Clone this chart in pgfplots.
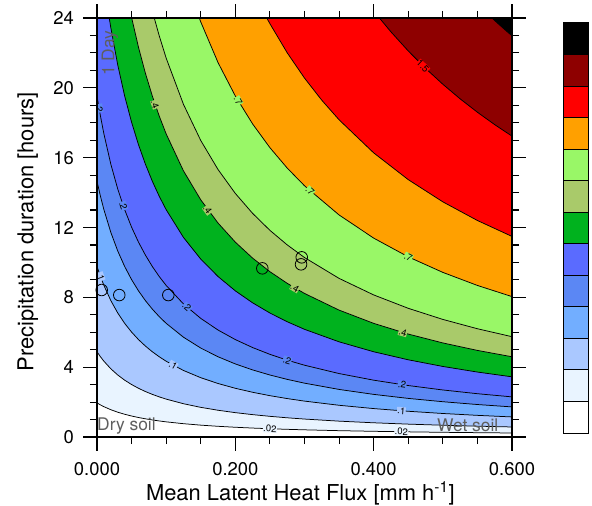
\documentclass[border=0pt]{standalone}
\usepackage{fontspec}
\setmainfont{TeX Gyre Heros}
\usepackage{pgfplots}
\pgfplotsset{compat=1.18}
\definecolor{cA}{HTML}{FFFFFF}
\definecolor{cB}{HTML}{E9F4FF}
\definecolor{cC}{HTML}{AAC8FF}
\definecolor{cD}{HTML}{72AEFF}
\definecolor{cE}{HTML}{5B87F4}
\definecolor{cF}{HTML}{5A6BFF}
\definecolor{cG}{HTML}{00B21E}
\definecolor{cH}{HTML}{A9CA6A}
\definecolor{cI}{HTML}{99F767}
\definecolor{cJ}{HTML}{FFA000}
\definecolor{cK}{HTML}{FF0000}
\definecolor{cL}{HTML}{8E0000}
\definecolor{cM}{HTML}{000000}
\definecolor{annot}{HTML}{5E5E5E}
\begin{document}
\begin{tikzpicture}
\useasboundingbox (-97bp,-69bp) rectangle (495bp,437bp);
\begin{axis}[
  at={(0,0)}, anchor=south west,
  scale only axis, width=415bp, height=419bp,
  xmin=0, xmax=0.6, ymin=0, ymax=24,
  axis on top,
  axis line style={line width=1.4bp},
  tick style={line width=1.1bp, black},
  tick align=outside,
  major tick length=13.5bp, minor tick length=7bp,
  xtick={0,0.2,0.4,0.6}, minor x tick num=3,
  ytick={0,4,8,12,16,20,24}, minor y tick num=3,
  /pgf/number format/assume math mode=true,
  xticklabel style={yshift=-8bp, /pgf/number format/.cd, fixed, fixed zerofill, precision=3},
  yticklabel style={xshift=-6bp},
  tick label style={font=\fontsize{18.5}{20}\selectfont},
  label style={font=\fontsize{22}{24}\selectfont},
  xlabel={Mean Latent Heat Flux [mm h\textsuperscript{-1}]},
  ylabel={Precipitation duration [hours]},
  xlabel style={at={(axis description cs:0.49,-0.134)}, anchor=center},
  ylabel style={at={(axis description cs:-0.167,0.49)}, anchor=center},
  every axis plot/.append style={line width=0.75bp},
]
% z > 0.02
\addplot[fill=cB, draw=black] coordinates {(0,1.953) (0.005,1.838) (0.01,1.736) (0.02,1.563) (0.03,1.420) (0.04,1.302) (0.05,1.202) (0.06,1.116) (0.07,1.042) (0.08,0.977) (0.09,0.919) (0.10,0.868) (0.125,0.762) (0.15,0.679) (0.175,0.613) (0.20,0.558) (0.225,0.512) (0.25,0.473) (0.275,0.440) (0.30,0.411) (0.35,0.363) (0.40,0.326) (0.45,0.295) (0.50,0.269) (0.55,0.248) (0.60,0.230) (0.6,24) (0,24)};
% z > 0.05
\addplot[fill=cC, draw=black] coordinates {(0,4.883) (0.005,4.596) (0.01,4.340) (0.02,3.906) (0.03,3.551) (0.04,3.255) (0.05,3.005) (0.06,2.790) (0.07,2.604) (0.08,2.441) (0.09,2.298) (0.10,2.170) (0.125,1.906) (0.15,1.698) (0.175,1.532) (0.20,1.395) (0.225,1.281) (0.25,1.184) (0.275,1.100) (0.30,1.028) (0.35,0.908) (0.40,0.814) (0.45,0.737) (0.50,0.674) (0.55,0.620) (0.60,0.574) (0.6,24) (0,24)};
% z > 0.1
\addplot[fill=cD, draw=black] coordinates {(0,9.766) (0.005,9.191) (0.01,8.681) (0.02,7.813) (0.03,7.102) (0.04,6.510) (0.05,6.010) (0.06,5.580) (0.07,5.208) (0.08,4.883) (0.09,4.596) (0.10,4.340) (0.125,3.811) (0.15,3.397) (0.175,3.064) (0.20,2.790) (0.225,2.562) (0.25,2.367) (0.275,2.201) (0.30,2.056) (0.35,1.817) (0.40,1.628) (0.45,1.474) (0.50,1.347) (0.55,1.240) (0.60,1.149) (0.6,24) (0,24)};
% z > 0.15
\addplot[fill=cE, draw=black] coordinates {(0,14.648) (0.005,13.787) (0.01,13.021) (0.02,11.719) (0.03,10.653) (0.04,9.766) (0.05,9.014) (0.06,8.371) (0.07,7.812) (0.08,7.324) (0.09,6.893) (0.10,6.510) (0.125,5.717) (0.15,5.095) (0.175,4.596) (0.20,4.185) (0.225,3.842) (0.25,3.551) (0.275,3.301) (0.30,3.084) (0.35,2.725) (0.40,2.441) (0.45,2.211) (0.50,2.021) (0.55,1.860) (0.60,1.723) (0.6,24) (0,24)};
% z > 0.2
\addplot[fill=cF, draw=black] coordinates {(0,19.531) (0.005,18.382) (0.01,17.361) (0.02,15.625) (0.03,14.205) (0.04,13.021) (0.05,12.019) (0.06,11.161) (0.07,10.417) (0.08,9.766) (0.09,9.191) (0.10,8.681) (0.125,7.622) (0.15,6.793) (0.175,6.127) (0.20,5.580) (0.225,5.123) (0.25,4.735) (0.275,4.401) (0.30,4.112) (0.35,3.634) (0.40,3.255) (0.45,2.948) (0.50,2.694) (0.55,2.480) (0.60,2.298) (0.6,24) (0,24)};
% z > 0.3
\addplot[fill=cG, draw=black] coordinates {(0.0177,24) (0.02,23.438) (0.03,21.307) (0.04,19.531) (0.05,18.029) (0.06,16.741) (0.07,15.625) (0.08,14.648) (0.09,13.787) (0.10,13.021) (0.125,11.433) (0.15,10.190) (0.175,9.191) (0.20,8.371) (0.225,7.685) (0.25,7.102) (0.275,6.602) (0.30,6.168) (0.35,5.451) (0.40,4.883) (0.45,4.422) (0.50,4.041) (0.55,3.720) (0.60,3.447) (0.6,24)};
% z > 0.4
\addplot[fill=cH, draw=black] coordinates {(0.0502,24) (0.06,22.321) (0.07,20.833) (0.08,19.531) (0.09,18.382) (0.10,17.361) (0.125,15.244) (0.15,13.587) (0.175,12.255) (0.20,11.161) (0.225,10.246) (0.25,9.470) (0.275,8.803) (0.30,8.224) (0.35,7.268) (0.40,6.510) (0.45,5.896) (0.50,5.388) (0.55,4.960) (0.60,4.596) (0.6,24)};
% z > 0.5
\addplot[fill=cI, draw=black] coordinates {(0.0828,24) (0.09,22.978) (0.10,21.702) (0.125,19.055) (0.15,16.984) (0.175,15.319) (0.20,13.951) (0.225,12.808) (0.25,11.837) (0.275,11.004) (0.30,10.280) (0.35,9.085) (0.40,8.138) (0.45,7.371) (0.50,6.735) (0.55,6.201) (0.60,5.745) (0.6,24)};
% z > 0.7
\addplot[fill=cJ, draw=black] coordinates {(0.1479,24) (0.15,23.777) (0.175,21.446) (0.20,19.531) (0.225,17.931) (0.25,16.572) (0.275,15.405) (0.30,14.391) (0.35,12.718) (0.40,11.393) (0.45,10.319) (0.50,9.429) (0.55,8.681) (0.60,8.042) (0.6,24)};
% z > 1.0
\addplot[fill=cK, draw=black] coordinates {(0.2455,24) (0.25,23.674) (0.275,22.007) (0.30,20.559) (0.325,19.290) (0.35,18.169) (0.40,16.276) (0.45,14.741) (0.50,13.470) (0.55,12.401) (0.60,11.489) (0.6,24)};
% z > 1.5
\addplot[fill=cL, draw=black] coordinates {(0.4083,24) (0.425,23.205) (0.45,22.112) (0.475,21.115) (0.50,20.205) (0.525,19.370) (0.55,18.601) (0.575,17.891) (0.60,17.234) (0.6,24)};
% z > 2.0
\addplot[fill=cM, draw=black] coordinates {(0.5710,24) (0.58,23.674) (0.59,23.321) (0.60,22.978) (0.6,24)};
% contour labels
\begin{scope}[every node/.style={font=\fontsize{9.5}{10}\selectfont, inner sep=0.4bp}]
\node[fill=cB, rotate=-2] at (axis cs:0.25,0.473) {.02};
\node[fill=cB, rotate=-1] at (axis cs:0.44,0.30) {.02};
\node[fill=cC, rotate=-70] at (axis cs:0.005,9.19) {.1};
\node[fill=cC, rotate=-29] at (axis cs:0.11,4.12) {.1};
\node[fill=cC, rotate=-4] at (axis cs:0.44,1.50) {.1};
\node[fill=cE, rotate=-80] at (axis cs:0.003,18.83) {.2};
\node[fill=cE, rotate=-70] at (axis cs:0.038,13.24) {.2};
\node[fill=cE, rotate=-42] at (axis cs:0.13,7.44) {.2};
\node[fill=cE, rotate=-17] at (axis cs:0.275,4.40) {.2};
\node[fill=cE, rotate=-8] at (axis cs:0.441,3.0) {.2};
\node[fill=cH, rotate=-71] at (axis cs:0.084,19.05) {.4};
\node[fill=cH, rotate=-54] at (axis cs:0.16,13.0) {.4};
\node[fill=cH, rotate=-30] at (axis cs:0.286,8.54) {.4};
\node[fill=cH, rotate=-16] at (axis cs:0.442,5.99) {.4};
\node[fill=cI, rotate=-60] at (axis cs:0.204,19.26) {.7};
\node[fill=cI, rotate=-42] at (axis cs:0.308,14.1) {.7};
\node[fill=cI, rotate=-26] at (axis cs:0.45,10.32) {.7};
\node[fill=cK, rotate=-44] at (axis cs:0.471,21.24) {1.5};
\end{scope}
% observations
\addplot[only marks, mark=o, mark size=5.8bp, black, line width=0.8bp] coordinates {(0.0068,8.42) (0.0322,8.13) (0.1031,8.13) (0.239,9.66) (0.296,10.29) (0.295,9.89)};
% annotations
\node[annot, rotate=90, font=\fontsize{17.5}{19}\selectfont] at (axis cs:0.0188,21.97) {1 Day};
\node[annot, anchor=west, inner sep=0pt, font=\fontsize{17.5}{19}\selectfont] at (axis cs:0.0,0.63) {Dry soil};
\node[annot, font=\fontsize{17.5}{19}\selectfont, inner sep=0pt] at (axis cs:0.536,0.69) {Wet soil};
\end{axis}
% colour bar
\begin{axis}[
  at={(466bp,4bp)}, anchor=south west,
  scale only axis, width=25bp, height=410bp,
  xmin=0, xmax=1, ymin=0, ymax=13,
  hide axis, clip=false,
  every axis plot/.append style={draw=black, line width=1bp},
]
\addplot[fill=cA] coordinates {(0,0) (1,0) (1,1) (0,1) (0,0)};
\addplot[fill=cB] coordinates {(0,1) (1,1) (1,2) (0,2) (0,1)};
\addplot[fill=cC] coordinates {(0,2) (1,2) (1,3) (0,3) (0,2)};
\addplot[fill=cD] coordinates {(0,3) (1,3) (1,4) (0,4) (0,3)};
\addplot[fill=cE] coordinates {(0,4) (1,4) (1,5) (0,5) (0,4)};
\addplot[fill=cF] coordinates {(0,5) (1,5) (1,6) (0,6) (0,5)};
\addplot[fill=cG] coordinates {(0,6) (1,6) (1,7) (0,7) (0,6)};
\addplot[fill=cH] coordinates {(0,7) (1,7) (1,8) (0,8) (0,7)};
\addplot[fill=cI] coordinates {(0,8) (1,8) (1,9) (0,9) (0,8)};
\addplot[fill=cJ] coordinates {(0,9) (1,9) (1,10) (0,10) (0,9)};
\addplot[fill=cK] coordinates {(0,10) (1,10) (1,11) (0,11) (0,10)};
\addplot[fill=cL] coordinates {(0,11) (1,11) (1,12) (0,12) (0,11)};
\addplot[fill=cM] coordinates {(0,12) (1,12) (1,13) (0,13) (0,12)};
\end{axis}
\end{tikzpicture}
\end{document}
